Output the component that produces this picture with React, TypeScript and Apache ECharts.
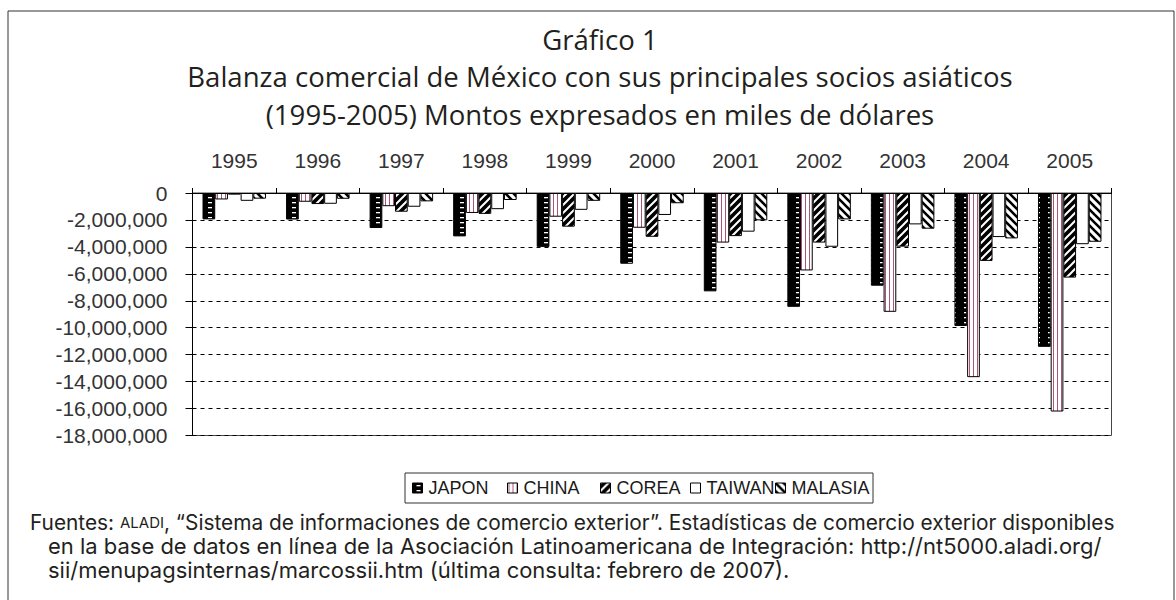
import React, { useEffect, useRef } from 'react';
import * as echarts from 'echarts';

// ---- data (miles de dólares) ----
const years = ['1995', '1996', '1997', '1998', '1999', '2000', '2001', '2002', '2003', '2004', '2005'];
const seriesNames = ['JAPON', 'CHINA', 'COREA', 'TAIWAN', 'MALASIA'];
const japon = [-1960000, -1970000, -2600000, -3220000, -4000000, -5250000, -7300000, -8450000, -6880000, -9870000, -11420000];
const china = [-480000, -650000, -980000, -1480000, -1760000, -2580000, -3680000, -5750000, -8820000, -13670000, -16220000];
const corea = [-120000, -820000, -1390000, -1550000, -2500000, -3250000, -3200000, -3680000, -3980000, -5040000, -6280000];
const taiwan = [-580000, -800000, -1020000, -1200000, -1250000, -1630000, -2870000, -3990000, -2330000, -3270000, -3800000];
const malasia = [-420000, -430000, -620000, -520000, -580000, -760000, -2030000, -1960000, -2650000, -3370000, -3620000];
const yMin = -18000000;
const yMax = 0;
const yStep = 2000000;

const titleLines = [
  'Gráfico 1',
  'Balanza comercial de México con sus principales socios asiáticos',
  '(1995-2005) Montos expresados en miles de dólares',
];
const src1a = 'Fuentes: ';
const src1b = 'ALADI';
const src1c = ', “Sistema de informaciones de comercio exterior”. Estadísticas de comercio exterior disponibles';
const src2 = 'en la base de datos en línea de la Asociación Latinoamericana de Integración: http://nt5000.aladi.org/';
const src3 = 'sii/menupagsinternas/marcossii.htm (última consulta: febrero de 2007).';

const TITLE_FONT = 'Open Sans';
const TEXT_FONT = 'Inter';
const AXIS_FONT = 'Liberation Sans';

function measure(text: string, family: string): number {
  const c = document.createElement('canvas').getContext('2d') as CanvasRenderingContext2D;
  c.font = `100px "${family}"`;
  return c.measureText(text).width / 100;
}

function tile(w: number, h: number, draw: (ctx: CanvasRenderingContext2D) => void) {
  const c = document.createElement('canvas');
  c.width = w;
  c.height = h;
  const ctx = c.getContext('2d') as CanvasRenderingContext2D;
  draw(ctx);
  return { image: c, repeat: 'repeat' } as any;
}

export default function App() {
  const ref = useRef<HTMLDivElement>(null);
  useEffect(() => {
    if (!ref.current) return;
    const chart = echarts.init(ref.current, undefined, { renderer: 'svg' });

    const pJapon = tile(12, 5, (ctx) => {
      ctx.fillStyle = '#000';
      ctx.fillRect(0, 0, 12, 5);
      ctx.fillStyle = '#fff';
      ctx.fillRect(4, 2, 4, 1.3);
    });
    const pChina = tile(4, 4, (ctx) => {
      ctx.fillStyle = '#fff';
      ctx.fillRect(0, 0, 4, 4);
      ctx.fillStyle = '#a8557a';
      ctx.fillRect(1, 0, 1, 4);
    });
    const pCorea = tile(8, 8, (ctx) => {
      ctx.fillStyle = '#000';
      ctx.fillRect(0, 0, 8, 8);
      ctx.strokeStyle = '#fff';
      ctx.lineWidth = 2;
      ctx.beginPath();
      ctx.moveTo(-2, 10); ctx.lineTo(10, -2);
      ctx.moveTo(-6, 6); ctx.lineTo(6, -6);
      ctx.moveTo(2, 14); ctx.lineTo(14, 2);
      ctx.stroke();
    });
    const pTaiwan = '#ffffff';
    const pMalasia = tile(8, 8, (ctx) => {
      ctx.fillStyle = '#fff';
      ctx.fillRect(0, 0, 8, 8);
      ctx.strokeStyle = '#000';
      ctx.lineWidth = 2.6;
      ctx.beginPath();
      ctx.moveTo(-2, -2); ctx.lineTo(10, 10);
      ctx.moveTo(-6, 2); ctx.lineTo(6, 14);
      ctx.moveTo(2, -6); ctx.lineTo(14, 6);
      ctx.stroke();
    });
    const fills = [pJapon, pChina, pCorea, pTaiwan, pMalasia];
    const dataSets = [japon, china, corea, taiwan, malasia];

    // font sizes fitted to the reference widths
    const titleSize = 826 / measure(titleLines[1], TITLE_FONT);
    const srcSize = 1054 / measure(src2, TEXT_FONT);
    const smallRatio = 0.72;
    const src1Size = 1085 / (measure(src1a, TEXT_FONT) + smallRatio * measure(src1b, TEXT_FONT) + measure(src1c, TEXT_FONT));
    const LH = 24;

    const legendLefts = [412, 507, 600, 690, 775];

    const sourceText =
      `{l1|${src1a}}{s|${src1b}}{l1|${src1c}}\n` +
      `{ind| }{t|${src2}}\n` +
      `{ind| }{t|${src3}}`;

    const option: any = {
      animation: false,
      backgroundColor: '#ffffff',
      grid: {
        left: 192.5,
        right: 64.5,
        top: 193,
        bottom: 164.5,
        show: true,
        borderColor: '#444',
        borderWidth: 1,
      },
      legend: seriesNames.map((n, i) => ({
        data: [n],
        left: legendLefts[i],
        top: 479,
        padding: 0,
        itemWidth: 10,
        itemHeight: 10,
        itemGap: 0,
        icon: 'rect',
        selectedMode: false,
        itemStyle: { borderColor: '#000', borderWidth: 1 },
        textStyle: { fontFamily: AXIS_FONT, fontSize: 18, color: '#1a1a1a', padding: [0, 0, 0, 1] },
      })),
      xAxis: {
        type: 'category',
        data: years,
        position: 'top',
        axisLine: { show: true, lineStyle: { color: '#000', width: 1 } },
        axisTick: { show: true, length: 5, lineStyle: { color: '#000' } },
        axisLabel: { margin: 22, fontSize: 21, fontFamily: AXIS_FONT, color: '#333' },
        splitLine: { show: false },
      },
      yAxis: {
        type: 'value',
        min: yMin,
        max: yMax,
        interval: yStep,
        axisLine: { show: true, lineStyle: { color: '#000', width: 1 } },
        axisTick: { show: true, length: 7, lineStyle: { color: '#000' } },
        axisLabel: {
          margin: 25,
          fontSize: 21,
          fontFamily: AXIS_FONT,
          color: '#333',
          formatter: (v: number) => v.toLocaleString('en-US'),
        },
        splitLine: { show: true, lineStyle: { color: '#000', type: [4, 4], width: 1 } },
      },
      series: seriesNames.map((n, i) => ({
        name: n,
        type: 'bar',
        data: dataSets[i],
        barGap: '0%',
        barCategoryGap: '24%',
        itemStyle: { color: fills[i], borderColor: '#000', borderWidth: 1 },
      })),
      graphic: [
        {
          type: 'rect',
          shape: { x: 8, y: 11, width: 1166, height: 600 },
          style: { fill: 'none', stroke: '#333', lineWidth: 1 },
          silent: true,
        },
        {
          type: 'rect',
          shape: { x: 405, y: 473, width: 468, height: 30 },
          style: { fill: 'none', stroke: '#333', lineWidth: 1 },
          silent: true,
        },
        ...titleLines.map((t, i) => ({
          type: 'text',
          x: 600,
          y: [39, 76.5, 114][i],
          style: {
            text: t,
            fontFamily: TITLE_FONT,
            fontSize: titleSize,
            fill: '#231f20',
            textAlign: 'center',
            textVerticalAlign: 'middle',
            align: 'center',
            verticalAlign: 'middle',
          },
        })),
        {
          type: 'text',
          x: 30,
          y: 510,
          style: {
            text: sourceText,
            fontFamily: TEXT_FONT,
            fontSize: srcSize,
            fill: '#231f20',
            textAlign: 'left',
            textVerticalAlign: 'top',
            align: 'left',
            verticalAlign: 'top',
            lineHeight: LH,
            rich: {
              l1: { fontFamily: TEXT_FONT, fontSize: src1Size, lineHeight: LH, fill: '#231f20' },
              s: {
                fontFamily: TEXT_FONT,
                fontSize: src1Size * smallRatio,
                lineHeight: LH,
                fill: '#231f20',
              },
              ind: { width: 18, lineHeight: LH, fontSize: srcSize },
              t: { fontFamily: TEXT_FONT, fontSize: srcSize, lineHeight: LH, fill: '#231f20' },
            },
          },
        },
      ],
    };
    chart.setOption(option);
    return () => chart.dispose();
  }, []);
  return (
    <div
      ref={ref}
      style={{ position: 'absolute', left: 0, top: 0, width: 1176, height: 600, background: '#fff' }}
    />
  );
}
